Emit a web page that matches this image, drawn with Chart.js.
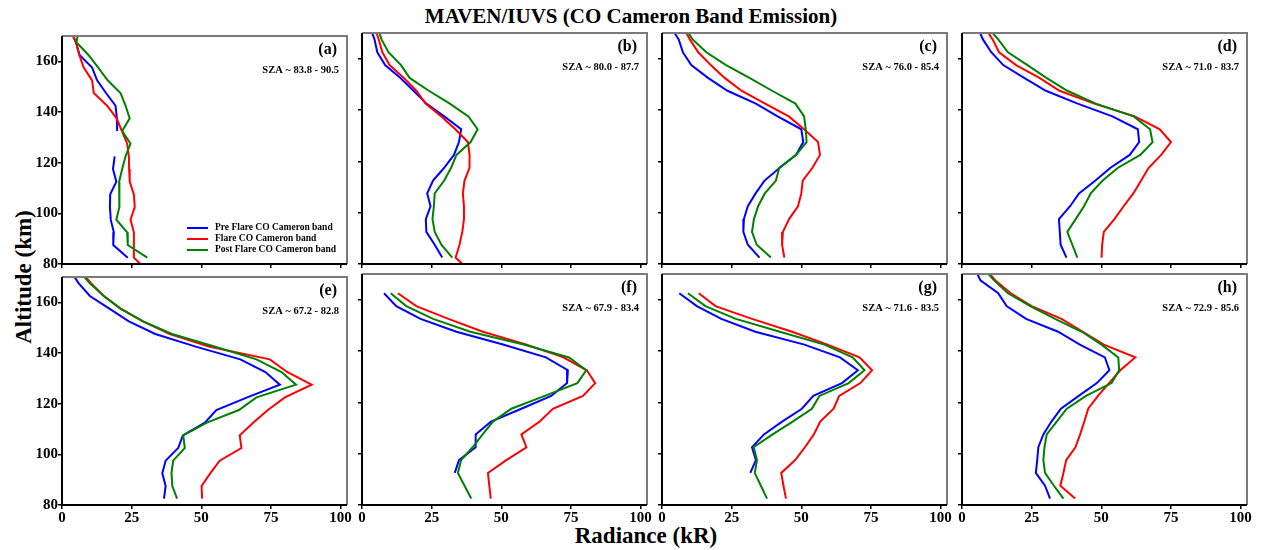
<!DOCTYPE html>
<html><head><meta charset="utf-8">
<script src="https://cdn.jsdelivr.net/npm/chart.js@4.4.1/dist/chart.umd.min.js"></script>
<style>
body{margin:0;background:#fff;}
#wrap{position:relative;width:1262px;height:550px;overflow:hidden;font-family:'Liberation Serif','Times New Roman',serif;background:#fff;}
.t{position:absolute;font-weight:bold;color:#000;white-space:nowrap;}
canvas{position:absolute;}
</style></head><body>
<div id="wrap">
<div class="t" style="left:0;width:1262px;text-align:center;top:4px;font-size:21px;line-height:24px;">MAVEN/IUVS (CO Cameron Band Emission)</div>
<div class="t" style="left:646px;top:523px;transform:translateX(-50%);font-size:23px;line-height:26px;">Radiance (kR)</div>
<div class="t" style="left:24px;top:277px;transform:translate(-50%,-50%) rotate(-90deg);font-size:23px;line-height:26px;">Altitude (km)</div>
</div>
<script>
// ---------- data ----------
const altitude = [172.5, 167.5, 162.5, 157.5, 152.5, 147.5, 142.5, 137.5, 132.5, 127.5, 122.5, 117.5, 112.5, 107.5, 102.5, 97.5, 92.5, 87.5, 82.5, 77.5];
const xTicks = [0, 25, 50, 75, 100];
const yTicks = [80, 100, 120, 140, 160];
const seriesNames = ['Pre Flare CO Cameron band', 'Flare CO Cameron band', 'Post Flare CO Cameron band'];
const panelLabels = ['(a)', '(b)', '(c)', '(d)', '(e)', '(f)', '(g)', '(h)'];
const szaLabels = ['SZA ~ 83.8 - 90.5', 'SZA ~ 80.0 - 87.7', 'SZA ~ 76.0 - 85.4', 'SZA ~ 71.0 - 83.7',
                   'SZA ~ 67.2 - 82.8', 'SZA ~ 67.9 - 83.4', 'SZA ~ 71.6 - 83.5', 'SZA ~ 72.9 - 85.6'];

const preA   = [3, 5, 6.3, 10.8, 12.6, 15.8, 19.2, 19.7, 19.8, null, 18.9, 18.3, 19.5, 17.3, 17.2, 17.5, 18.6, 18.4, 23.6, null];
const flareA = [3, 5, 6.2, 7.8, 10.8, 11.4, 16.2, 19.6, 21.5, 23.4, 24, 24.1, 24.3, 25.8, 26.1, 24.6, 25.8, 25.8, 25.8, 30.5];
const postA  = [6, 5.2, 9.5, 13, 16.4, 21, 22.8, 24.3, 21.6, 24.6, 22.8, 21.6, 20.5, 20.5, 20.7, 19.5, 23.4, 23.6, 30.6, null];

const preB   = [2.8, 4.5, 5.5, 8.3, 13.8, 18.5, 23.1, 29.5, 35.6, 34.8, 33, 29.5, 25.5, 23.4, 24.6, 22.9, 23.1, 26.1, 28.8, null];
const flareB = [4.5, 6, 7.3, 9.9, 15, 19.5, 22.8, 28.5, 33.5, 38, 38.6, 38.6, 36.8, 36.2, 36.6, 36.6, 36, 35, 33.6, 38.5];
const postB  = [5.5, 7, 9.5, 14, 17.1, 24, 31.5, 38.2, 41.5, 39, 33.9, 32, 29.5, 26.1, 25.8, 25.3, 26.1, 28.5, 32.4, null];

const preC   = [3, 6, 7.5, 10.5, 16.5, 23.5, 33.7, 41.5, 50, 50.7, 48.1, 42.3, 36.8, 33.6, 30.8, 29.4, 29.2, 30.8, 35, null];
const flareC = [7.5, 10, 13, 17.5, 22.5, 28.5, 37, 45.5, 51, 56, 56.7, 54, 50.5, 50, 48.8, 45.6, 43.4, 43.1, 43.9, null];
const postC  = [8, 11, 15.9, 23, 31.4, 39.5, 47.9, 51, 51.6, 51.9, 48.1, 42.1, 40.9, 36.9, 34.5, 33, 32.3, 34, 39.1, null];

const preD   = [5.5, 7.5, 10.5, 14.8, 22.3, 30.1, 41.5, 54, 63.1, 63.6, 60.2, 53.3, 47.9, 42, 38.8, 34.8, 35.1, 35.4, 37.5, null];
const flareD = [8, 11, 13.3, 19.4, 27.8, 35, 47.5, 62, 71, 75, 71.5, 67, 64.3, 61.5, 58, 54.7, 50.9, 50.3, 50.1, null];
const postD  = [9, 13, 16.5, 23.5, 30.3, 37.8, 48, 61.6, 67.5, 68.4, 64, 56, 50.5, 46.2, 43.8, 40.8, 37.8, 39.6, 41.4, null];

const preE   = [3, 6, 10, 17, 24, 33.5, 48, 64, 73, 78.2, 66.5, 55.4, 51.3, 43.4, 41.7, 37.2, 36, 37.2, 36.6, null];
const flareE = [6.5, 10.5, 15, 21, 29.1, 38.7, 53, 74.6, 80.8, 89.6, 80, 73.9, 68.6, 63.8, 64.4, 56.6, 53.2, 50.1, 50.3, null];
const postE  = [6, 10, 15, 21, 29.1, 39.5, 55, 69.8, 78.8, 84, 69.8, 63.5, 52, 43.5, 44.1, 39.9, 39.3, 39.6, 41.3, null];

const preF   = [null, null, 7.9, 12.3, 21, 33.9, 50.6, 66, 73.9, 73.6, 67.9, 57.2, 46.3, 40.8, 40.8, 34.8, 33.3, null, null, null];
const flareF = [null, null, 12.9, 19.5, 31, 43.4, 59.1, 72.3, 80.7, 83.7, 79.3, 68.5, 63.8, 57.2, 59, 51.8, 45.2, 45.7, 46.2, null];
const postF  = [null, null, 10.3, 15.9, 25.5, 38.9, 58, 74.3, 80.5, 77.3, 65.6, 53.6, 47, 43.3, 39.7, 35.6, 34.4, 36.8, 39.2, null];

const preG   = [null, null, 6.2, 12.5, 21.3, 33.5, 51.1, 63.9, 70.3, 64.6, 54.3, 50.2, 43.1, 36.6, 32.3, 33.7, 31.7, null, null, null];
const flareG = [null, null, 13.2, 19.2, 32.3, 46.7, 59.4, 70.9, 75.4, 71.2, 63.6, 61.6, 56.8, 54.5, 51.3, 47.8, 42.8, 43.6, 44.5, null];
const postG  = [null, null, 9.3, 15.6, 26.5, 42.3, 58.3, 68.4, 72.7, 67, 56.5, 53.8, 46.9, 39.7, 32.9, 34.1, 33.3, 35.5, 37.7, null];

const preH   = [4.5, 6.6, 13, 16, 23, 34.5, 42.3, 51.3, 52.9, 48.4, 41.9, 35.5, 32.1, 29.2, 27.4, 27, 26.5, 29.8, 31.6, null];
const flareH = [8, 12, 17.5, 25, 35.7, 43.4, 50.9, 62.2, 56.8, 52.8, 48.8, 45.3, 43.9, 42.4, 40.7, 37.4, 36.4, 35.3, 40.6, null];
const postH  = [7.5, 11.5, 16.5, 24.5, 33.4, 43, 50.1, 56.1, 56.4, 53.7, 44.5, 37.6, 34, 30.4, 29.6, 29.2, 29.8, 33, 36.4, null];

const panelSeries = [
  [preA, flareA, postA], [preB, flareB, postB], [preC, flareC, postC], [preD, flareD, postD],
  [preE, flareE, postE], [preF, flareF, postF], [preG, flareG, postG], [preH, flareH, postH]
];

// ---------- layout / style ----------
const seriesColors = ['#0000ff', '#ff0000', '#008000'];
const colLeft = [62, 362, 662, 962];
const rowTop = [33, 274];
const PW = 285, PH = 231, AXW = 50, AXH = 30, PAD = 6;
const SERIF = "'Liberation Serif', 'Times New Roman', serif";

const decor = {
  id: 'decor',
  afterDraw(chart, args, opts) {
    const ctx = chart.ctx;
    const {left, right, top, bottom} = chart.chartArea;
    ctx.save();
    ctx.lineWidth = 2;
    ctx.strokeStyle = '#7a7a7a';
    ctx.beginPath(); ctx.moveTo(left, top); ctx.lineTo(right, top); ctx.lineTo(right, bottom); ctx.stroke();
    ctx.strokeStyle = '#000';
    ctx.beginPath(); ctx.moveTo(left, top); ctx.lineTo(left, bottom); ctx.lineTo(right, bottom); ctx.stroke();
    ctx.fillStyle = '#000';
    ctx.textAlign = 'right';
    ctx.textBaseline = 'middle';
    ctx.font = 'bold 16px ' + SERIF;
    ctx.fillText(opts.label, right - 10, top + 14);
    ctx.font = 'bold 10.5px ' + SERIF;
    ctx.fillText(opts.sza, right - 8, top + 34.5);
    if (opts.legend) {
      ctx.textAlign = 'left';
      ctx.font = 'bold 9.5px ' + SERIF;
      const rows = [36, 25, 14];
      chart.data.datasets.forEach((ds, k) => {
        const y = bottom - rows[k];
        ctx.strokeStyle = ds.borderColor;
        ctx.lineWidth = 2;
        ctx.beginPath(); ctx.moveTo(left + 125, y); ctx.lineTo(left + 146, y); ctx.stroke();
        ctx.fillText(ds.label, left + 153, y);
      });
    }
    ctx.restore();
  }
};

const wrap = document.getElementById('wrap');
panelSeries.forEach((series, p) => {
  const row = Math.floor(p / 4), col = p % 4;
  const cv = document.createElement('canvas');
  const W = AXW + PW + PAD, H = PAD + PH + AXH;
  cv.width = W; cv.height = H;
  cv.style.width = W + 'px'; cv.style.height = H + 'px';
  cv.style.left = (colLeft[col] - AXW) + 'px';
  cv.style.top = (rowTop[row] - PAD) + 'px';
  wrap.appendChild(cv);
  const tickFont = {family: SERIF, size: 15, weight: 'bold'};
  new Chart(cv, {
    type: 'line',
    data: {
      datasets: series.map((vals, k) => ({
        label: seriesNames[k],
        data: altitude.map((a, i) => ({x: vals[i], y: a})),
        borderColor: seriesColors[k],
        backgroundColor: seriesColors[k],
        borderWidth: 2,
        pointRadius: 0,
        tension: 0,
        fill: false,
        spanGaps: false,
        order: 3 - k
      }))
    },
    options: {
      responsive: false,
      animation: false,
      devicePixelRatio: 1,
      events: [],
      indexAxis: 'y',
      layout: {padding: {top: PAD, right: PAD, left: 0, bottom: 0}},
      plugins: {
        legend: {display: false},
        tooltip: {enabled: false},
        decor: {label: panelLabels[p], sza: szaLabels[p], legend: p === 0}
      },
      scales: {
        x: {
          type: 'linear', position: 'bottom', min: 0, max: 102.3,
          afterBuildTicks: s => { s.ticks = xTicks.map(v => ({value: v})); },
          afterFit: s => { s.height = AXH; },
          ticks: {display: row === 1, font: tickFont, color: '#000', padding: 0, maxRotation: 0, autoSkip: false},
          grid: {display: true, drawOnChartArea: false, drawTicks: true, tickLength: 4, color: '#000', lineWidth: 1.5},
          border: {display: false}
        },
        y: {
          type: 'linear', position: 'left', min: 80, max: 170,
          afterBuildTicks: s => { s.ticks = yTicks.map(v => ({value: v})); },
          afterFit: s => { s.width = AXW; },
          ticks: {display: col === 0, font: tickFont, color: '#000', padding: 0, autoSkip: false},
          grid: {display: true, drawOnChartArea: false, drawTicks: true, tickLength: 4, color: '#000', lineWidth: 1.5},
          border: {display: false}
        }
      }
    },
    plugins: [decor]
  });
});
</script>
</body></html>
